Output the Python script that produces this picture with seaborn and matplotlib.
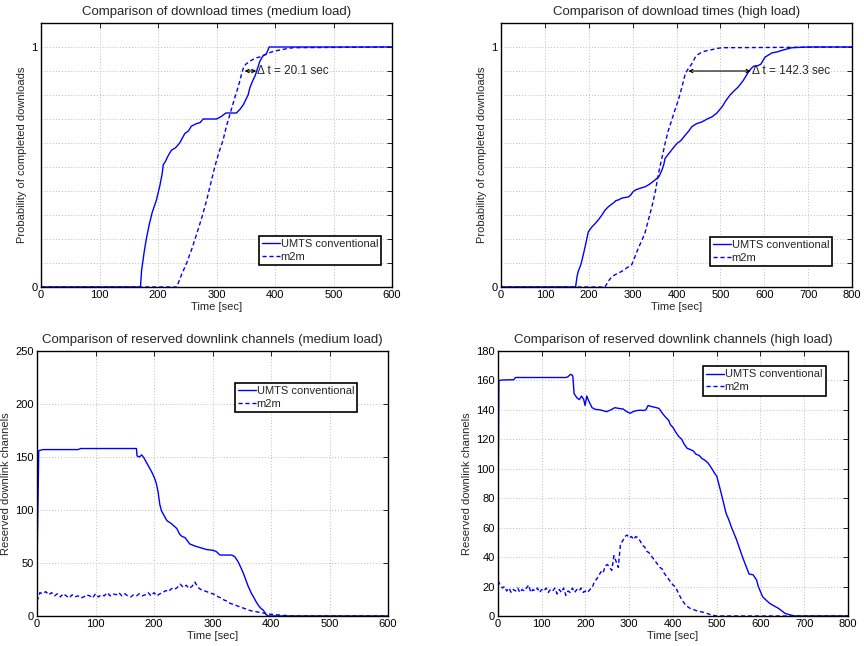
import numpy as np
import matplotlib
matplotlib.use('Agg')
import matplotlib.pyplot as plt
import seaborn as sns

# ---------------- download time CDFs (medium load) ----------------
t_umts_med = [0, 170, 172, 176, 180, 185, 190, 197, 203, 207,
              209, 212, 218, 223, 230, 237, 246, 252, 257, 265,
              272, 277, 290, 300, 308, 316, 325, 334, 340, 346,
              350, 354, 357, 362, 366, 370, 374, 380, 385, 390, 600]
p_umts_med = [0, 0, 0.07, 0.14, 0.2, 0.26, 0.31, 0.36, 0.42, 0.47,
              0.51, 0.52, 0.55, 0.57, 0.58, 0.60, 0.64, 0.65, 0.67, 0.68,
              0.685, 0.70, 0.70, 0.70, 0.71, 0.725, 0.725, 0.725, 0.74, 0.76,
              0.78, 0.80, 0.83, 0.86, 0.88, 0.91, 0.94, 0.965, 0.97, 1.0, 1.0]
t_m2m_med = [0, 232, 240, 249, 258, 266, 275, 283, 290, 297,
             304, 311, 317, 323, 329, 334, 339, 343, 347, 351,
             360, 368, 377, 386, 395, 403, 420, 431, 600]
p_m2m_med = [0, 0, 0.05, 0.10, 0.16, 0.22, 0.29, 0.36, 0.43, 0.50,
             0.56, 0.61, 0.67, 0.72, 0.77, 0.81, 0.85, 0.89, 0.92, 0.93,
             0.945, 0.955, 0.96, 0.972, 0.98, 0.985, 0.993, 0.997, 1.0]

# ---------------- download time CDFs (high load) ----------------
t_umts_high = [0, 170, 173, 176, 182, 187, 192, 199, 207, 215,
               222, 230, 237, 245, 256, 262, 268, 275, 283, 290,
               296, 300, 306, 315, 329, 340, 351, 360, 367, 371,
               374, 380, 389, 395, 401, 410, 420, 428, 435, 445,
               458, 470, 481, 492, 504, 512, 522, 530, 541, 552,
               564, 570, 576, 585, 592, 602, 610, 617, 630, 640,
               663, 700, 800]
p_umts_high = [0, 0, 0.04, 0.065, 0.093, 0.13, 0.17, 0.23, 0.25, 0.265,
               0.28, 0.30, 0.32, 0.335, 0.35, 0.36, 0.363, 0.37, 0.373, 0.375,
               0.384, 0.395, 0.404, 0.41, 0.418, 0.43, 0.446, 0.46, 0.488, 0.51,
               0.536, 0.55, 0.571, 0.585, 0.598, 0.61, 0.633, 0.65, 0.668, 0.68,
               0.688, 0.70, 0.709, 0.725, 0.751, 0.775, 0.80, 0.815, 0.834, 0.86,
               0.896, 0.91, 0.92, 0.922, 0.928, 0.958, 0.967, 0.975, 0.98, 0.986,
               0.997, 1.0, 1.0]
t_m2m_high = [0, 237, 245, 253, 264, 275, 287, 298, 305, 313,
              320, 328, 336, 344, 352, 359, 367, 374, 381, 389,
              396, 404, 412, 420, 427, 435, 443, 450, 458, 470,
              481, 492, 504, 800]
p_m2m_high = [0, 0, 0.025, 0.044, 0.055, 0.065, 0.08, 0.093, 0.125, 0.162,
              0.19, 0.224, 0.28, 0.335, 0.40, 0.474, 0.54, 0.598, 0.65, 0.695,
              0.735, 0.778, 0.83, 0.889, 0.91, 0.93, 0.958, 0.97, 0.979, 0.985,
              0.989, 0.994, 0.997, 1.0]

# ---------------- reserved channels (medium load) ----------------
t_umts_med_ch = [0, 3, 10, 70, 75, 170, 171, 175, 179, 183,
                 187, 191, 196, 201, 204, 207, 210, 213, 217, 222,
                 230, 239, 244, 248, 253, 261, 270, 279, 290, 300,
                 306, 313, 322, 333, 338, 344, 349, 353, 357, 361,
                 366, 370, 374, 378, 383, 387, 391, 395, 600]
v_umts_med_ch = [49, 156, 157, 157, 158, 158, 151, 150, 152, 149,
                 145, 141, 136, 130, 125, 117, 105, 99, 95, 90,
                 87, 82.5, 77, 75, 74, 68, 66, 64.5, 62.7, 62,
                 61, 57.5, 57.5, 57.5, 56, 51, 45, 40, 34, 28,
                 22, 18, 14, 10.4, 7, 5.5, 1.6, 0, 0]
# m2m sampled every 5 s (0..440 s), then zero up to 600 s
t_m2m_med_ch = list(np.arange(0, 445, 5)) + [600]
v_m2m_med_ch = [14, 22, 21, 23, 20, 22, 19, 21, 18, 21,
                19, 17, 20, 18, 19, 17, 18, 20, 19, 17,
                21, 18, 20, 19, 22, 19, 21, 20, 22, 19,
                21, 19, 18, 20, 19, 21, 19, 20, 22, 19,
                22, 19, 21, 22, 24, 23, 26, 25, 27, 30,
                27, 29, 26, 28, 32, 27, 25, 24, 23, 22,
                21, 20, 18, 17, 15, 14, 12, 11, 10, 9,
                8, 7, 6, 5, 4.5, 4, 3.5, 3, 2.5, 2,
                1.5, 1.5, 1, 1, 0.5, 0.5, 0.3, 0, 0, 0]

# ---------------- reserved channels (high load) ----------------
t_umts_high_ch = [0, 2, 10, 36, 40, 155, 160, 165, 168, 171,
                  174, 181, 186, 191, 196, 199, 203, 206, 210, 215,
                  222, 233, 240, 248, 258, 267, 276, 286, 293, 302,
                  310, 317, 325, 332, 338, 343, 348, 355, 362, 368,
                  375, 383, 390, 394, 400, 406, 413, 420, 425, 432,
                  440, 447, 452, 460, 466, 472, 480, 489, 495, 500,
                  507, 513, 521, 528, 534, 545, 552, 559, 568, 574,
                  583, 591, 595, 605, 612, 621, 630, 641, 656, 668, 679, 800]
v_umts_high_ch = [65, 160, 160.3, 160.5, 162, 162, 162.5, 164, 164, 163,
                  151, 148, 147, 149.4, 147, 143, 149.4, 147, 144.5, 141.5,
                  140.4, 140, 139.5, 138.8, 140, 141.5, 141, 140.6, 139, 137.7,
                  139, 139.5, 139.8, 139.6, 140, 143, 142.5, 142, 141.5, 141,
                  138, 135, 133, 130, 128, 125, 122, 120, 117, 114,
                  113, 112, 110, 109, 107, 106, 104, 100, 97, 95,
                  87, 80, 70, 65, 60, 52, 46, 40, 33, 28.5,
                  28, 24.5, 20, 13, 11, 8.6, 7, 5.2, 1.8, 0.7, 0, 0]
# m2m sampled every 5 s (0..500 s), then zero up to 800 s
t_m2m_high_ch = list(np.arange(0, 505, 5)) + [800]
v_m2m_high_ch = [24, 21, 19, 20, 17, 19, 16, 18, 17, 19,
                 16, 18, 17, 19, 21, 16, 18, 17, 19, 16,
                 18, 17, 19, 16, 18, 17, 19, 15, 18, 16,
                 19, 14, 17, 16, 19, 16, 18, 17, 19, 16,
                 17, 16, 18, 19, 23, 25, 27, 30, 29, 34,
                 35, 33, 31, 41, 37, 33, 49, 51, 54, 55,
                 53, 54, 52, 54, 53, 51, 48, 47, 44, 43,
                 41, 39, 37, 35, 33, 32, 29, 27, 25, 23,
                 21, 20, 17, 14, 11, 9, 7, 6, 5, 4.5,
                 4, 3.5, 3, 2.8, 2.5, 2, 1.5, 1, 0.7, 0.3,
                 0, 0]

sns.set_style('white')
plt.rcParams['font.family'] = ['Liberation Sans', 'DejaVu Sans']

BLUE = '#0000ff'
DASH = (0, (3.0, 2.0))

fig = plt.figure(figsize=(8.64, 6.46), dpi=100)
W, H = 864, 646


def add_ax(left, top, right, bottom):
    return fig.add_axes([left / W, 1 - bottom / H, (right - left) / W, (bottom - top) / H])


def draw(ax, t1, v1, t2, v2):
    sns.lineplot(x=t1, y=v1, ax=ax, color=BLUE, linewidth=1.0, label='UMTS conventional',
                 errorbar=None, sort=False)
    sns.lineplot(x=t2, y=v2, ax=ax, color=BLUE, linewidth=1.0, linestyle=DASH, label='m2m',
                 errorbar=None, sort=False)


def style(ax, xmax, title, ylabel):
    ax.set_xlim(0, xmax)
    ax.set_xticks(range(0, xmax + 1, 100))
    ax.set_title(title, fontsize=9.5, pad=6)
    ax.set_xlabel('Time [sec]', fontsize=8, labelpad=1)
    ax.set_ylabel(ylabel, fontsize=8, labelpad=3)
    ax.grid(True, linestyle=(0, (1, 2)), color='#bdbdbd', linewidth=0.7)
    ax.set_axisbelow(True)
    ax.tick_params(direction='in', length=3.5, width=0.6, top=True, right=True,
                   labelsize=8, pad=2.5, colors='black')
    for s in ax.spines.values():
        s.set_color('black')
        s.set_linewidth(1.0)


def legend(ax, x0, ytop):
    leg = ax.legend(loc='upper left', bbox_to_anchor=(x0, ytop), fontsize=8,
                    frameon=True, fancybox=False, edgecolor='black', framealpha=1,
                    borderaxespad=0, borderpad=0.3, handlelength=1.6,
                    handletextpad=0.05, labelspacing=0.25)
    leg.get_frame().set_linewidth(1.2)


ax1 = add_ax(41, 23, 392, 287)
ax2 = add_ax(501, 23, 852, 287)
ax3 = add_ax(37, 351, 388, 616)
ax4 = add_ax(498, 351, 848, 616)

# top-left
draw(ax1, t_umts_med, p_umts_med, t_m2m_med, p_m2m_med)
style(ax1, 600, 'Comparison of download times (medium load)', 'Probability of completed downloads')
ax1.set_ylim(0, 1.1)
ax1.set_yticks(np.linspace(0, 1, 11))
ax1.set_yticklabels(['0'] + [''] * 9 + ['1'])
legend(ax1, 0.621, 0.195)
ax1.annotate('', xy=(348, 0.9), xytext=(368, 0.9),
             arrowprops=dict(arrowstyle='<->', color='black', lw=0.8,
                             shrinkA=0, shrinkB=0, mutation_scale=6))
ax1.text(370, 0.9, '\u0394 t = 20.1 sec', fontsize=8.5, va='center', ha='left')

# top-right
draw(ax2, t_umts_high, p_umts_high, t_m2m_high, p_m2m_high)
style(ax2, 800, 'Comparison of download times (high load)', 'Probability of completed downloads')
ax2.set_ylim(0, 1.1)
ax2.set_yticks(np.linspace(0, 1, 11))
ax2.set_yticklabels(['0'] + [''] * 9 + ['1'])
legend(ax2, 0.595, 0.19)
ax2.annotate('', xy=(427, 0.9), xytext=(569, 0.9),
             arrowprops=dict(arrowstyle='<->', color='black', lw=0.8,
                             shrinkA=0, shrinkB=0, mutation_scale=6))
ax2.text(572, 0.9, '\u0394 t = 142.3 sec', fontsize=8.5, va='center', ha='left')

# bottom-left
draw(ax3, t_umts_med_ch, v_umts_med_ch, t_m2m_med_ch, v_m2m_med_ch)
style(ax3, 600, 'Comparison of reserved downlink channels (medium load)', 'Reserved downlink channels')
ax3.set_ylim(0, 250)
ax3.set_yticks(range(0, 251, 50))
legend(ax3, 0.564, 0.88)

# bottom-right
draw(ax4, t_umts_high_ch, v_umts_high_ch, t_m2m_high_ch, v_m2m_high_ch)
style(ax4, 800, 'Comparison of reserved downlink channels (high load)', 'Reserved downlink channels')
ax4.set_ylim(0, 180)
ax4.set_yticks(range(0, 181, 20))
legend(ax4, 0.586, 0.943)

fig.savefig('out.png', dpi=100)
